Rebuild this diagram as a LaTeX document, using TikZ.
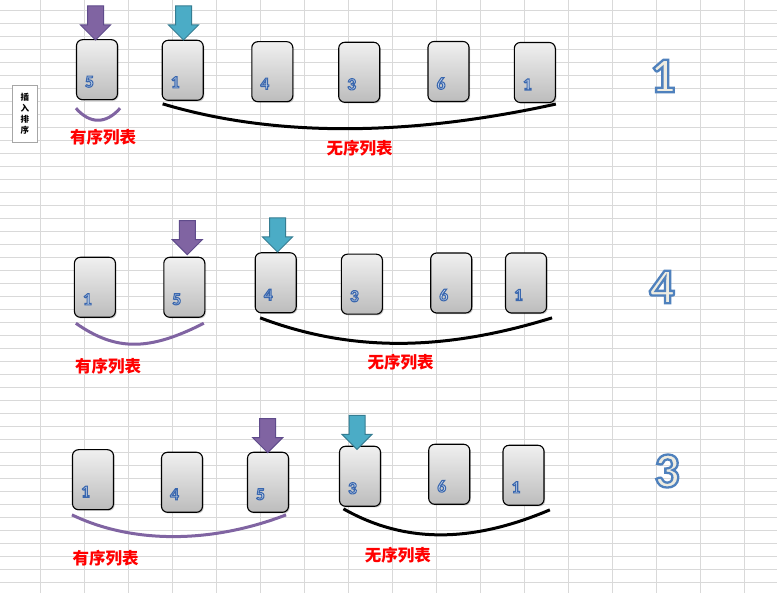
\documentclass[tikz,border=0pt]{standalone}
\usepackage{fontspec}
\usepackage{xcolor}
\usepackage{tikz}
\usetikzlibrary{shapes.arrows, shadows, positioning}
\newfontfamily\cjk{Noto Sans CJK SC}
\newfontfamily\numfont{Carlito}
\definecolor{gridgray}{HTML}{D9D9D9}
\definecolor{cardtop}{HTML}{F0F0F0}
\definecolor{cardbottom}{HTML}{BCBCBC}
\definecolor{numfill}{HTML}{DCE6F2}
\definecolor{bigfill}{HTML}{EEECE1}
\definecolor{sortpurple}{HTML}{8064A2}
\definecolor{sortpurpledark}{HTML}{5F4B8B}
\definecolor{nextteal}{HTML}{4BACC6}
\definecolor{nexttealdark}{HTML}{357D92}
% outlined digits: stroke colour (rgb), stroke width, text
\newcommand\outlined[3]{\special{pdf:literal direct 2 Tr #2 w #1 RG}#3\special{pdf:literal direct 0 Tr}}
\newcommand\cardnumtext[1]{\outlined{0.227 0.404 0.682}{1.1}{#1}}
\newcommand\steptext[1]{\outlined{0.31 0.506 0.741}{2.3}{#1}}

\tikzset{
    gridline/.style={draw=gridgray, line width=0.8pt},
    card/.style={draw=black, line width=1.1pt, rounded corners=6pt,
        minimum width=41pt, minimum height=60pt, inner sep=0pt,
        top color=cardtop, bottom color=cardbottom,
        drop shadow={shadow xshift=1.2pt, shadow yshift=-1.2pt, opacity=0.2, fill=black}},
    cardnum/.style={xshift=-7.5pt, yshift=-12pt, inner sep=0pt, text=numfill,
        font=\numfont\bfseries\fontsize{17}{17}\selectfont},
    pointer/.style={single arrow, shape border rotate=270, line width=1pt,
        minimum height=34pt, minimum width=29pt, single arrow head extend=7pt, inner sep=7.5pt},
    sortedptr/.style={pointer, fill=sortpurple, draw=sortpurpledark},
    nextptr/.style={pointer, fill=nextteal, draw=nexttealdark},
    sortedcurve/.style={draw=sortpurple, line width=3pt},
    unsortedcurve/.style={draw=black, line width=3pt},
    listlabel/.style={text=red, font=\cjk\bfseries\fontsize{16.5}{16.5}\selectfont},
    stepnum/.style={text=bigfill, font=\numfont\bfseries\fontsize{50}{50}\selectfont}
}

\begin{document}
\begin{tikzpicture}[x=1pt, y=-1pt]
    \useasboundingbox (0,0) rectangle (777,593);
    \fill[white] (0,0) rectangle (777,593);
    % sheet grid
    \foreach \k in {0,...,16}
        \draw[gridline] ({40+44.04*\k},0) -- ({40+44.04*\k},593);
    \foreach \k in {0,...,44}
        \draw[gridline] (0,{10.7+13*\k}) -- (777,{10.7+13*\k});

    % title box
    \node[draw=gray!70, fill=white, minimum width=25pt, minimum height=57pt, inner sep=0pt,
        align=center, font=\cjk\bfseries\fontsize{8.5}{11}\selectfont] (title) at (24.8,113.3) {插\\入\\排\\序};

    % first row
    \node[card, label={[cardnum]center:{\cardnumtext{5}}}] (c11) at (97,69.7) {};
    \node[card, label={[cardnum]center:{\cardnumtext{1}}}] (c12) at (182.7,70.3) {};
    \node[card, label={[cardnum]center:{\cardnumtext{4}}}] (c13) at (272.3,71.7) {};
    \node[card, label={[cardnum]center:{\cardnumtext{3}}}] (c14) at (359.2,72.3) {};
    \node[card, label={[cardnum]center:{\cardnumtext{6}}}] (c15) at (448.5,71.5) {};
    \node[card, label={[cardnum]center:{\cardnumtext{1}}}] (c16) at (534.8,72.5) {};
    \node[sortedptr] (p11) at (95.5,19) {};
    \node[nextptr] (p12) at (183.5,19) {};
    \draw[sortedcurve] ([yshift=-8pt]c11.south west) .. controls +(14,16) and +(-14,16) .. ([xshift=2pt,yshift=-8pt]c11.south east);
    \draw[unsortedcurve] ([xshift=1pt,yshift=-3pt]c12.south west) .. controls +(110,33) and +(-150,33) .. ([yshift=-1pt]c16.south east);
    \node[listlabel] (s1) at (103,137) {有序列表};
    \node[listlabel] (u1) at (359.5,148.3) {无序列表};
    \node[stepnum] (n1) at (663,76) {\steptext{1}};

    % second row
    \node[card, label={[cardnum]center:{\cardnumtext{1}}}] (c21) at (94.9,287.3) {};
    \node[card, label={[cardnum]center:{\cardnumtext{5}}}] (c22) at (184.3,287.3) {};
    \node[card, label={[cardnum]center:{\cardnumtext{4}}}] (c23) at (275.7,282.8) {};
    \node[card, label={[cardnum]center:{\cardnumtext{3}}}] (c24) at (361.9,284.2) {};
    \node[card, label={[cardnum]center:{\cardnumtext{6}}}] (c25) at (451.2,283) {};
    \node[card, label={[cardnum]center:{\cardnumtext{1}}}] (c26) at (526,283) {};
    \node[sortedptr] (p21) at (187.3,233.7) {};
    \node[nextptr] (p22) at (277.5,231) {};
    \draw[sortedcurve] ([xshift=2pt,yshift=-5.4pt]c21.south west) .. controls +(40,28) and +(-55,28) .. ([xshift=-1.5pt,yshift=-5.4pt]c22.south east);
    \draw[unsortedcurve] ([xshift=5.5pt,yshift=-4.5pt]c23.south west) .. controls +(90,34) and +(-110,34) .. ([xshift=5pt,yshift=-4.3pt]c26.south east);
    \node[listlabel] (s2) at (108,366) {有序列表};
    \node[listlabel] (u2) at (400.5,362.7) {无序列表};
    \node[stepnum] (n2) at (662,287) {\steptext{4}};

    % third row
    \node[card, label={[cardnum]center:{\cardnumtext{1}}}] (c31) at (93,479.7) {};
    \node[card, label={[cardnum]center:{\cardnumtext{4}}}] (c32) at (182,482.3) {};
    \node[card, label={[cardnum]center:{\cardnumtext{5}}}] (c33) at (268,482.3) {};
    \node[card, label={[cardnum]center:{\cardnumtext{3}}}] (c34) at (360,476.3) {};
    \node[card, label={[cardnum]center:{\cardnumtext{6}}}] (c35) at (449.2,474.3) {};
    \node[card, label={[cardnum]center:{\cardnumtext{1}}}] (c36) at (523.5,475.3) {};
    \node[sortedptr] (p31) at (267.7,431.7) {};
    \node[nextptr] (p32) at (357,428.3) {};
    \draw[sortedcurve] ([yshift=-4.6pt]c31.south west) .. controls +(60,29) and +(-75,29) .. ([xshift=-3pt,yshift=-2pt]c33.south east);
    \draw[unsortedcurve] ([xshift=4.5pt,yshift=-2pt]c34.south west) .. controls +(60,34) and +(-80,34) .. ([xshift=5.3pt,yshift=-4pt]c36.south east);
    \node[listlabel] (s3) at (105.5,558.3) {有序列表};
    \node[listlabel] (u3) at (397.8,555) {无序列表};
    \node[stepnum] (n3) at (667,471) {\steptext{3}};
\end{tikzpicture}
\end{document}
